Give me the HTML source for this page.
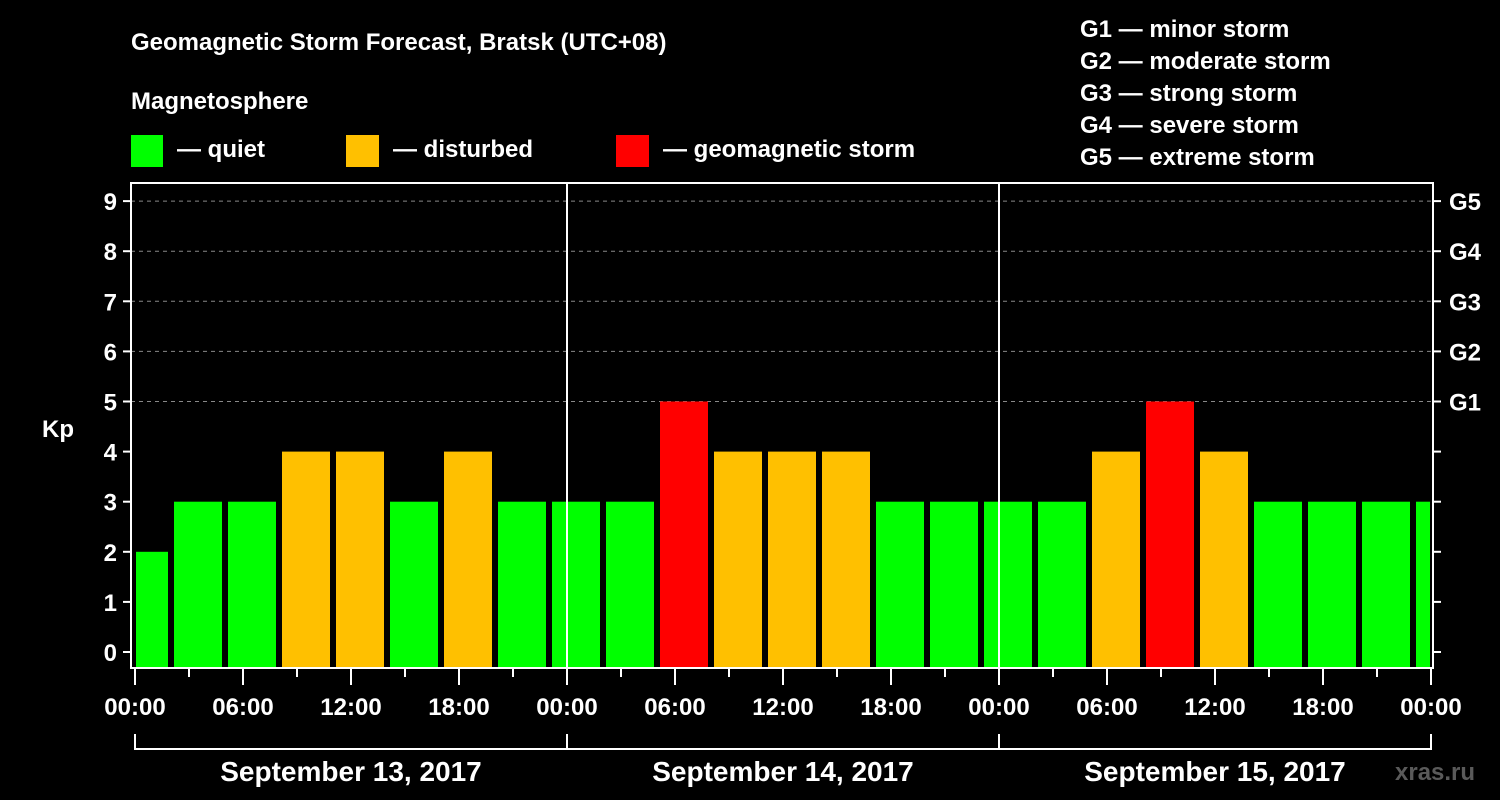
<!DOCTYPE html>
<html><head><meta charset="utf-8"><style>
html,body{margin:0;padding:0;background:#000;}
svg{display:block;}
text{font-family:"Liberation Sans",Arial,sans-serif;font-weight:bold;fill:#fff;}
</style></head><body>
<svg id="chart" width="1500" height="800" viewBox="0 0 1500 800" xmlns="http://www.w3.org/2000/svg">
<rect width="1500" height="800" fill="#000"/>
<text x="131" y="50" font-size="24">Geomagnetic Storm Forecast, Bratsk (UTC+08)</text>
<text x="131" y="109" font-size="24">Magnetosphere</text>
<g><rect x="131" y="135" width="32" height="32" fill="#00ff00"/><text x="177" y="157" font-size="24">— quiet</text></g>
<g><rect x="346" y="135" width="33" height="32" fill="#ffc000"/><text x="393" y="157" font-size="24">— disturbed</text></g>
<g><rect x="616" y="135" width="33" height="32" fill="#ff0000"/><text x="663" y="157" font-size="24">— geomagnetic storm</text></g>
<g font-size="24">
<text x="1080" y="37">G1 — minor storm</text>
<text x="1080" y="69">G2 — moderate storm</text>
<text x="1080" y="101">G3 — strong storm</text>
<text x="1080" y="133">G4 — severe storm</text>
<text x="1080" y="165">G5 — extreme storm</text>
</g>
<text x="42" y="437" font-size="24">Kp</text>
<g id="grid"></g>
<g id="bars"></g>
<g id="axes"></g>
<text x="1395" y="780" font-size="24" fill="#555" style="fill:#5a5a5a">xras.ru</text>
</svg>
<script>
const kpValues = [2,3,3,4,4,3,4,3,3,3,5,4,4,4,3,3,3,3,4,5,4,3,3,3,3];
const startHour = -1; // first 3-hour interval starts at 23:00 of previous day (local)
const intervalHours = 3;
const dayLabels = ["September 13, 2017","September 14, 2017","September 15, 2017"];
const hourTickLabels = ["00:00","06:00","12:00","18:00"];
const gLabels = ["G1","G2","G3","G4","G5"];
const yTicks = [0,1,2,3,4,5,6,7,8,9];

const NS="http://www.w3.org/2000/svg";
const L=131,R=1433,T=183,B=668;
const X0=135, PXH=18, TOTAL_H=72;
function xs(h){return X0+h*PXH;}
function ys(v){return 652-v*50.1;}
function colorOf(v){return v>=5?"#ff0000":(v>=4?"#ffc000":"#00ff00");}
function mk(tag,attrs,parent){const e=document.createElementNS(NS,tag);for(const k in attrs)e.setAttribute(k,attrs[k]);parent.appendChild(e);return e;}
const grid=document.getElementById('grid'),bars=document.getElementById('bars'),axes=document.getElementById('axes');

// gridlines at 5..9
for(let v=5;v<=9;v++){
  const l=mk('line',{x1:L,x2:R,y1:ys(v),y2:ys(v),stroke:'#888','stroke-width':1,'stroke-dasharray':'4,4'},grid);
  
  
}
// bars
kpValues.forEach((v,i)=>{
  let h0=startHour+i*intervalHours, h1=h0+intervalHours;
  let x0=xs(h0)+3, x1=xs(h1)-3;
  if(h0<0) x0=xs(0)+1;
  if(h1>TOTAL_H) x1=xs(TOTAL_H)-1;
  const r=mk('rect',{x:x0,y:ys(v),width:x1-x0,height:B-1-ys(v),fill:colorOf(v)},bars);
  
  
});
// frame
const fr=mk('rect',{x:L,y:T,width:R-L,height:B-T,fill:'none',stroke:'#fff','stroke-width':2},axes);


// day separators
for(let d=1;d<3;d++){
  const l=mk('line',{x1:xs(d*24),x2:xs(d*24),y1:T,y2:B,stroke:'#fff','stroke-width':2},axes);
  
  
}
// y ticks
yTicks.forEach(v=>{
  mk('line',{x1:L-8,x2:L,y1:ys(v),y2:ys(v),stroke:'#fff','stroke-width':2},axes);
  mk('line',{x1:R,x2:R+8,y1:ys(v),y2:ys(v),stroke:'#fff','stroke-width':2},axes);
  const t=mk('text',{x:L-14,y:ys(v)+9,'font-size':24,'text-anchor':'end'},axes);
  t.textContent=v;
  
  
});
gLabels.forEach((g,i)=>{
  const t=mk('text',{x:1449,y:ys(5+i)+9,'font-size':24},axes);
  t.textContent=g;
  
  
});
// x ticks
for(let h=0;h<=TOTAL_H;h+=3){
  const major=h%6===0;
  mk('line',{x1:xs(h),x2:xs(h),y1:B,y2:B+(major?17:9),stroke:'#fff','stroke-width':2},axes);
  if(major){
    const t=mk('text',{x:xs(h),y:715,'font-size':24,'text-anchor':'middle'},axes);
    t.textContent=hourTickLabels[(h/6)%4];
    
    
  }
}
// day brackets
mk('line',{x1:xs(0),x2:xs(TOTAL_H),y1:749,y2:749,stroke:'#fff','stroke-width':2},axes);
for(let d=0;d<=3;d++) mk('line',{x1:xs(d*24),x2:xs(d*24),y1:734,y2:750,stroke:'#fff','stroke-width':2},axes);
dayLabels.forEach((s,d)=>{
  const t=mk('text',{x:xs(d*24+12),y:781,'font-size':28,'text-anchor':'middle'},axes);
  t.textContent=s;
  
  
});
</script>
</body></html>
